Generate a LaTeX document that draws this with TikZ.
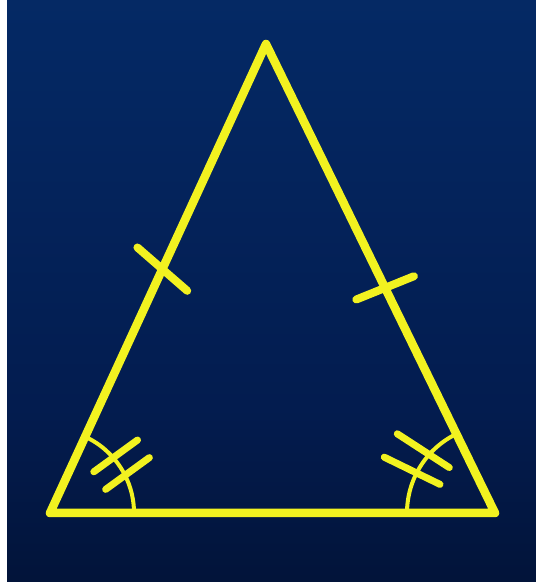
\documentclass[tikz,border=0pt]{standalone}
\usepackage{xcolor}
\usepackage{tikz}
\usetikzlibrary{calc,angles}

\definecolor{chalk}{RGB}{242,242,32}
\pgfdeclareverticalshading{board}{100bp}{
  rgb(0bp)=(0,0.03,0.11);
  rgb(15bp)=(0.005,0.055,0.17);
  rgb(40bp)=(0.012,0.11,0.31);
  rgb(70bp)=(0.016,0.155,0.385);
  rgb(85bp)=(0.022,0.172,0.41);
  rgb(100bp)=(0.012,0.15,0.36)}

\begin{document}
\begin{tikzpicture}[
  x=1pt, y=1pt,
  side/.style={draw=chalk, line width=8.5pt, line join=round, line cap=round},
  tick/.style={draw=chalk, line width=8pt, line cap=round},
  arcmark/.style={draw=chalk, line width=4pt},
]
  % ---------------- board ----------------
  \fill[white] (0,0) rectangle (536,582);
  \shade[shading=board] (7,0) rectangle (536,581);
  \useasboundingbox (0,0) rectangle (536,582);

  % ---------------- triangle ----------------
  \coordinate (A) at (266,538);
  \coordinate (B) at (50,69);
  \coordinate (C) at (495,69);
  \draw[side] (A) -- (B) -- (C) -- cycle;

  % equal sides
  \coordinate (mAB) at ($(A)!0.48!(B)$);
  \coordinate (mAC) at ($(A)!0.52!(C)$);
  \draw[tick] ($(mAB)+(139:33)$) -- ($(mAB)+(-41:33)$);
  \draw[tick] ($(mAC)+(202:31)$) -- ($(mAC)+(22:31)$);

  % equal base angles
  \pic[arcmark, angle radius=84pt] {angle=C--B--A};
  \pic[arcmark, angle radius=88pt] {angle=A--C--B};
  \draw[tick, line width=7pt] ($(B)+(41:87)+(36:27)$) -- ($(B)+(41:87)+(216:27)$);
  \draw[tick, line width=7pt] ($(B)+(27:87)+(36:27)$) -- ($(B)+(27:87)+(216:27)$);
  \draw[tick, line width=7pt] ($(C)+(139:95)+(147:31)$) -- ($(C)+(139:95)+(-33:31)$);
  \draw[tick, line width=7pt] ($(C)+(153:93)+(154:31)$) -- ($(C)+(153:93)+(-26:31)$);
\end{tikzpicture}
\end{document}
